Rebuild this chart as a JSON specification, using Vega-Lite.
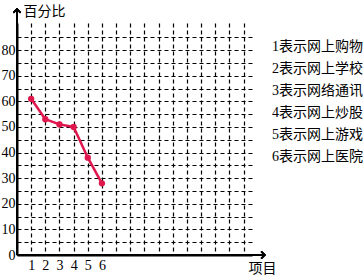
{
  "$schema": "https://vega.github.io/schema/vega-lite/v6.json",
  "width": 235,
  "height": 232,
  "autosize": "none",
  "padding": {"left": 17, "top": 23, "right": 112, "bottom": 20},
  "background": "white",
  "config": {"view": {"stroke": null}},
  "data": {"values": [
    {"item": 1, "label": "1表示网上购物", "pct": 61},
    {"item": 2, "label": "2表示网上学校", "pct": 53},
    {"item": 3, "label": "3表示网络通讯", "pct": 51},
    {"item": 4, "label": "4表示网上炒股", "pct": 50},
    {"item": 5, "label": "5表示网上游戏", "pct": 38},
    {"item": 6, "label": "6表示网上医院", "pct": 28}
  ]},
  "layer": [
    {
      "mark": {"type": "line", "color": "#e0174d", "strokeWidth": 2.5},
      "encoding": {
        "x": {"field": "item", "type": "quantitative",
          "scale": {"domain": [0, 16.6], "nice": false, "zero": false},
          "axis": {
            "values": [1,2,3,4,5,6,7,8,9,10,11,12,13,14,15,16], "tickCount": 100, "labelOverlap": false, "format": "d",
            "labelExpr": "datum.value <= 6 ? datum.label : ''",
            "grid": true, "gridColor": "black", "gridDash": [4, 3], "gridWidth": 1.2, "gridOpacity": 1,
            "ticks": false, "domain": true, "domainColor": "black", "domainWidth": 2,
            "labelFont": "Liberation Serif", "labelFontSize": 14, "labelColor": "black", "labelPadding": 3,
            "title": "项目", "titleFont": "Noto Sans CJK SC", "titleFontSize": 14, "titleFontWeight": "normal",
            "titleColor": "black", "titleAlign": "left", "titleBaseline": "top", "titleX": 231, "titleY": 6, "titleAnchor": null
          }},
        "y": {"field": "pct", "type": "quantitative",
          "scale": {"domain": [0, 90.6], "nice": false},
          "axis": {
            "values": [0,5,10,15,20,25,30,35,40,45,50,55,60,65,70,75,80,85], "tickCount": 100, "labelOverlap": false, "format": "d",
            "labelExpr": "(datum.value % 10 == 0 && datum.value <= 80) ? datum.label : ''",
            "grid": true, "gridColor": "black", "gridDash": [4, 3], "gridWidth": 1.2, "gridOpacity": 1,
            "ticks": false, "domain": true, "domainColor": "black", "domainWidth": 2,
            "labelFont": "Liberation Serif", "labelFontSize": 14, "labelColor": "black", "labelPadding": 2,
            "title": "百分比", "titleFont": "Noto Sans CJK SC", "titleFontSize": 14, "titleFontWeight": "normal",
            "titleColor": "black", "titleAngle": 0, "titleAlign": "left", "titleBaseline": "top", "titleX": 6, "titleY": -19
          }}
      }
    },
    {
      "mark": {"type": "point", "filled": true, "opacity": 1, "size": 40},
      "encoding": {
        "x": {"field": "item", "type": "quantitative",
          "axis": {
            "values": [1,2,3,4,5,6,7,8,9,10,11,12,13,14,15,16], "tickCount": 100, "labelOverlap": false, "format": "d",
            "labelExpr": "datum.value <= 6 ? datum.label : ''",
            "grid": true, "gridColor": "black", "gridDash": [4, 3], "gridWidth": 1.2, "gridOpacity": 1,
            "ticks": false, "domain": true, "domainColor": "black", "domainWidth": 2,
            "labelFont": "Liberation Serif", "labelFontSize": 14, "labelColor": "black", "labelPadding": 3,
            "title": "项目", "titleFont": "Noto Sans CJK SC", "titleFontSize": 14, "titleFontWeight": "normal",
            "titleColor": "black", "titleAlign": "left", "titleBaseline": "top", "titleX": 231, "titleY": 6, "titleAnchor": null
          }},
        "y": {"field": "pct", "type": "quantitative",
          "axis": {
            "values": [0,5,10,15,20,25,30,35,40,45,50,55,60,65,70,75,80,85], "tickCount": 100, "labelOverlap": false, "format": "d",
            "labelExpr": "(datum.value % 10 == 0 && datum.value <= 80) ? datum.label : ''",
            "grid": true, "gridColor": "black", "gridDash": [4, 3], "gridWidth": 1.2, "gridOpacity": 1,
            "ticks": false, "domain": true, "domainColor": "black", "domainWidth": 2,
            "labelFont": "Liberation Serif", "labelFontSize": 14, "labelColor": "black", "labelPadding": 2,
            "title": "百分比", "titleFont": "Noto Sans CJK SC", "titleFontSize": 14, "titleFontWeight": "normal",
            "titleColor": "black", "titleAngle": 0, "titleAlign": "left", "titleBaseline": "top", "titleX": 6, "titleY": -19
          }},
        "color": {"field": "label", "type": "nominal",
          "scale": {"range": ["#e0174d","#e0174d","#e0174d","#e0174d","#e0174d","#e0174d"]},
          "legend": {"title": null, "orient": "none", "legendX": 241, "legendY": 17,
            "symbolOpacity": 0, "symbolSize": 0, "symbolStrokeWidth": 0, "labelOffset": 0,
            "labelFont": "Liberation Serif, Noto Sans CJK SC", "labelFontSize": 14, "labelColor": "black",
            "labelLimit": 200, "rowPadding": 8}}
      }
    },
    {
      "mark": {"type": "rule", "color": "black", "strokeWidth": 2},
      "encoding": {"x": {"datum": 0}, "x2": {"datum": 17.5}, "y": {"datum": 0}}
    },
    {
      "mark": {"type": "rule", "color": "black", "strokeWidth": 2},
      "encoding": {"x": {"datum": 0}, "y": {"datum": 0}, "y2": {"datum": 96}}
    },
    {
      "mark": {"type": "point", "shape": "M-1,-1L0,0L-1,1", "filled": false, "stroke": "black", "strokeWidth": 1.5, "size": 50, "opacity": 1},
      "encoding": {"x": {"datum": 17.5}, "y": {"datum": 0}}
    },
    {
      "mark": {"type": "point", "shape": "M-1,1L0,0L1,1", "filled": false, "stroke": "black", "strokeWidth": 1.5, "size": 50, "opacity": 1},
      "encoding": {"x": {"datum": 0}, "y": {"datum": 96}}
    }
  ]
}
